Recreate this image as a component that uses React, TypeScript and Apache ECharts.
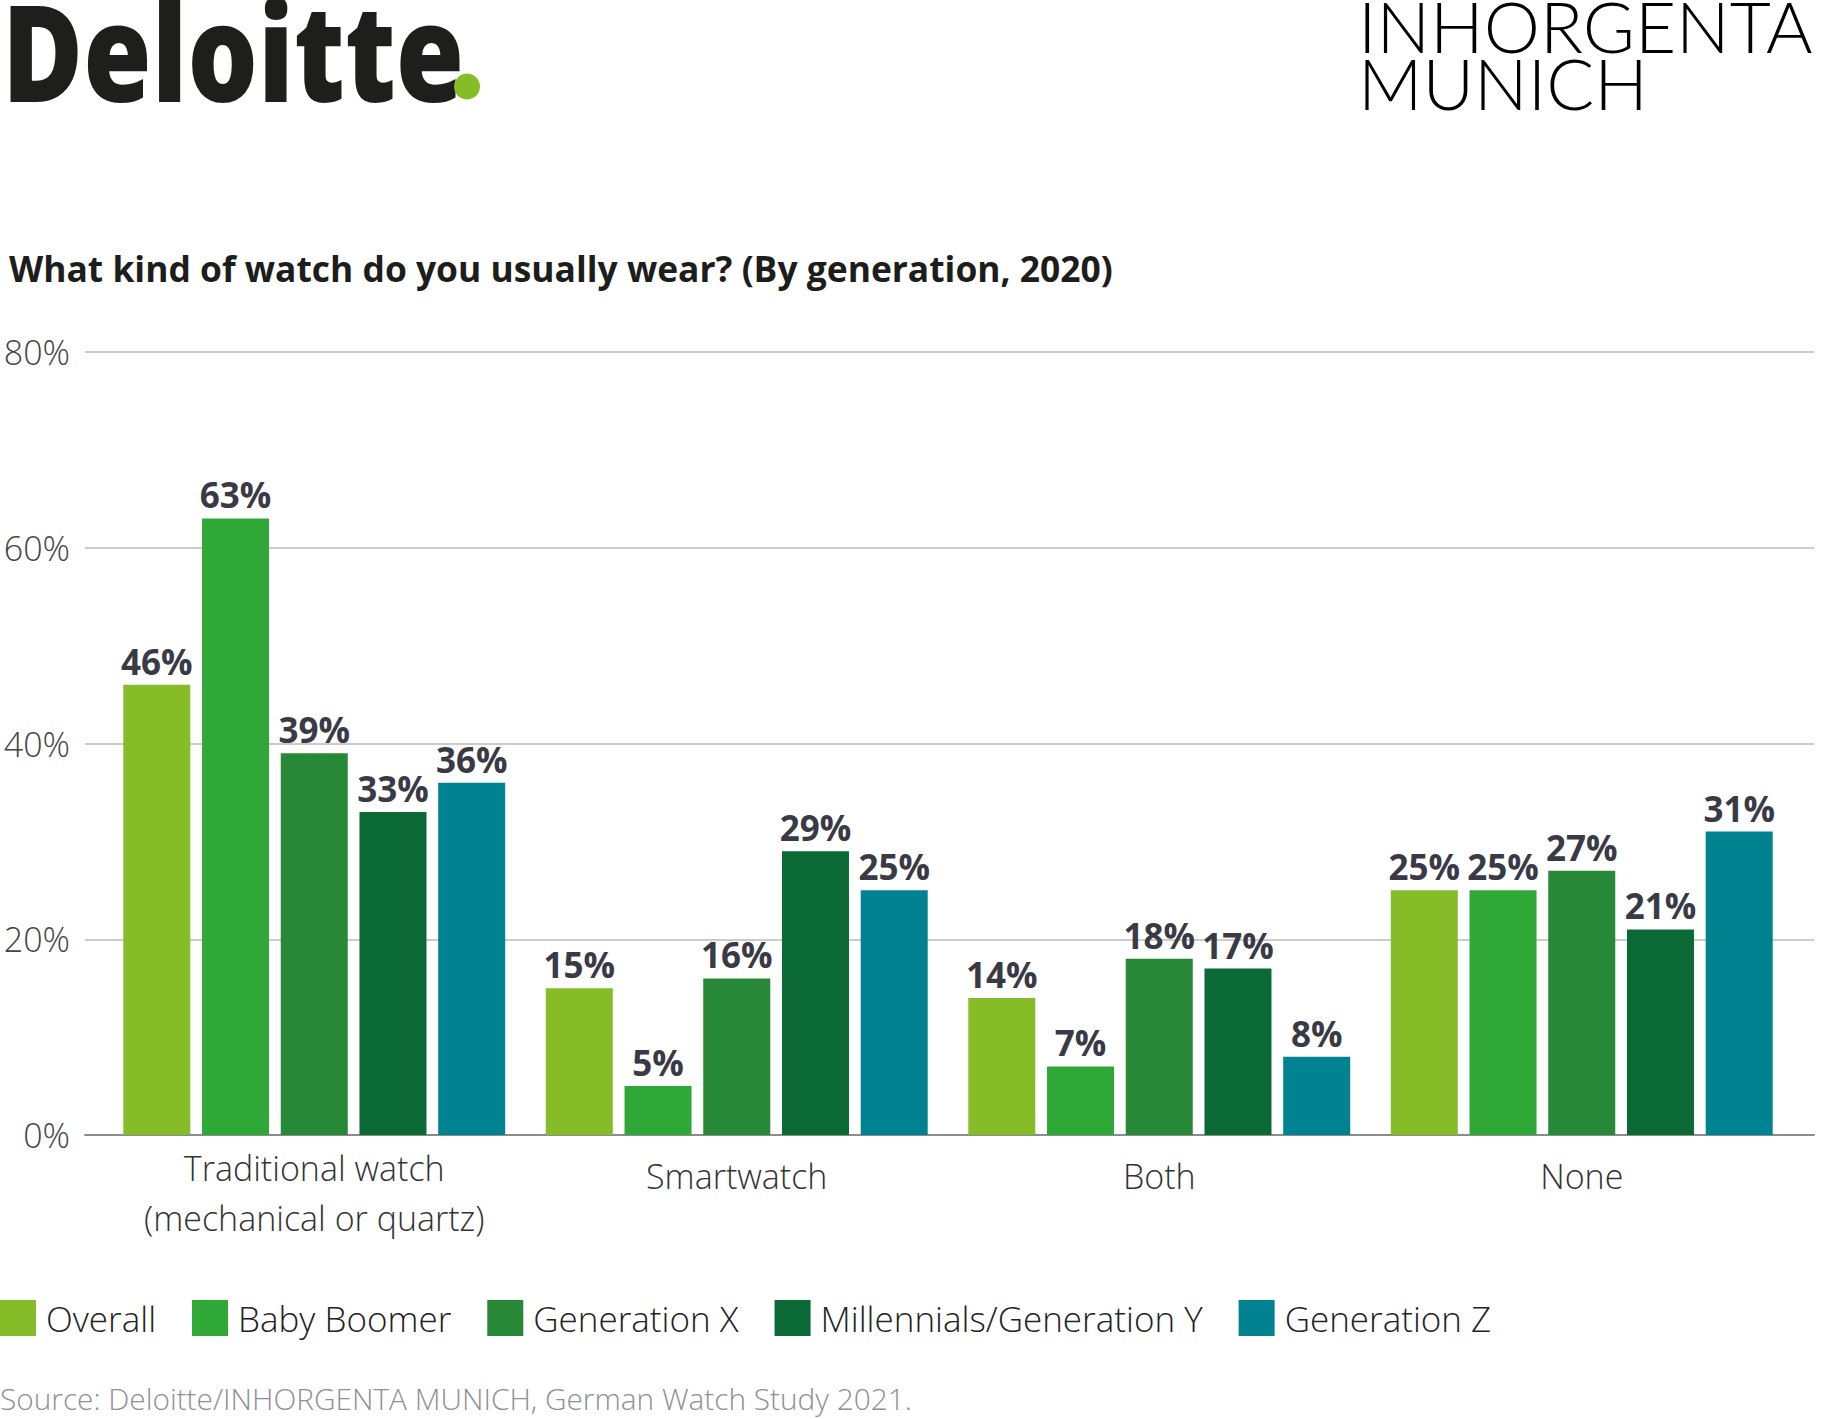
import React, { useEffect, useRef } from "react";
import * as echarts from "echarts";

const categories = ["Traditional watch\n(mechanical or quartz)", "Smartwatch", "Both", "None"];
const generations = ["Overall", "Baby Boomer", "Generation X", "Millennials/Generation Y", "Generation Z"];
const overall = [46, 15, 14, 25];
const babyBoomer = [63, 5, 7, 25];
const generationX = [39, 16, 18, 27];
const millennials = [33, 29, 17, 21];
const generationZ = [36, 25, 8, 31];
const colors = ["#86BC28", "#2FA838", "#278837", "#0A6934", "#008290"];
const yTicks = [0, 20, 40, 60, 80];

const seriesValues = [overall, babyBoomer, generationX, millennials, generationZ];
const FONT = "'Open Sans', sans-serif";

// one-line category labels sit a little lower than the first line of two-line ones
const categoryLabel = (value: string) =>
  value.includes("\n")
    ? value
        .split("\n")
        .map((line) => `{m|${line}}`)
        .join("\n")
    : `{s|${value}}`;

const App: React.FC = () => {
  const chartRef = useRef<HTMLDivElement>(null);

  useEffect(() => {
    document.body.style.margin = "0";
    const chart = echarts.init(chartRef.current as HTMLDivElement, undefined, { renderer: "svg" });

    const labelText = { fontFamily: FONT, fontSize: 34, fontWeight: 300, color: "#333333", lineHeight: 50 };

    const option: echarts.EChartsOption = {
      animation: false,
      backgroundColor: "#ffffff",
      textStyle: { fontFamily: FONT },
      title: [
        {
          text: "What kind of watch do you usually wear? (By generation, 2020)",
          left: 9,
          top: 250,
          padding: 0,
          textStyle: { fontFamily: FONT, fontSize: 35.4, fontWeight: "bold", color: "#1d1d1b" },
        },
        {
          text: "Source: Deloitte/INHORGENTA MUNICH, German Watch Study 2021.",
          left: 0,
          top: 1383,
          padding: 0,
          textStyle: { fontFamily: FONT, fontSize: 29.8, fontWeight: 300, color: "#8e9096" },
        },
      ],
      graphic: [
        {
          type: "text",
          x: 2,
          y: 50,
          scaleX: 0.82,
          style: {
            text: "Deloitte",
            font: "800 135px 'Open Sans', sans-serif",
            lineHeight: 100,
            fill: "#1e1e1c",
            verticalAlign: "middle",
          },
        },
        {
          type: "circle",
          shape: { cx: 467, cy: 86.5, r: 13 },
          style: { fill: "#86BC25" },
        },
        {
          type: "text",
          x: 1358,
          y: 53.5,
          style: {
            text: "INHORGENTA\nMUNICH",
            font: "300 71px Lato, sans-serif",
            lineHeight: 57,
            fill: "#000000",
            verticalAlign: "middle",
          },
        },
      ],
      legend: {
        data: generations,
        left: 0,
        top: 1300,
        padding: 0,
        itemWidth: 36,
        itemHeight: 36,
        itemGap: 36,
        icon: "rect",
        textStyle: { fontFamily: FONT, fontSize: 35, fontWeight: 300, color: "#222222", padding: [0, 0, 0, 5] },
      },
      grid: [
        { left: 85, right: 8, top: 352, bottom: 284 },
        { left: 103, right: 29, top: 352, bottom: 284 },
      ],
      xAxis: [
        {
          gridIndex: 0,
          type: "category",
          data: [""],
          axisLine: { show: true, lineStyle: { color: "#8c8c8c", width: 2 } },
          axisTick: { show: false },
          axisLabel: { show: false },
        },
        {
          gridIndex: 1,
          type: "category",
          data: categories,
          axisLine: { show: false },
          axisTick: { show: false },
          axisLabel: {
            interval: 0,
            margin: 8,
            formatter: categoryLabel,
            rich: {
              m: { ...labelText },
              s: { ...labelText, padding: [16, 0, 0, 0] },
            },
          },
        },
      ],
      yAxis: [
        {
          gridIndex: 0,
          type: "value",
          min: yTicks[0],
          max: yTicks[yTicks.length - 1],
          interval: 20,
          axisLine: { show: false },
          axisTick: { show: false },
          axisLabel: {
            formatter: "{value}%",
            margin: 15,
            fontFamily: FONT,
            fontSize: 34,
            fontWeight: 300,
            color: "#444444",
          },
          splitLine: { lineStyle: { color: "#cccccc", width: 2 } },
        },
        {
          gridIndex: 1,
          type: "value",
          min: yTicks[0],
          max: yTicks[yTicks.length - 1],
          interval: 20,
          show: false,
        },
      ],
      series: generations.map((name, i) => ({
        name,
        type: "bar" as const,
        xAxisIndex: 1,
        yAxisIndex: 1,
        data: seriesValues[i],
        barWidth: 67,
        barGap: "17.5%",
        itemStyle: { color: colors[i] },
        label: {
          show: true,
          position: "top" as const,
          distance: 6,
          formatter: "{c}%",
          fontFamily: FONT,
          fontSize: 35,
          fontWeight: "bold" as const,
          color: "#393a45",
        },
      })),
    };

    chart.setOption(option);
    return () => {
      chart.dispose();
    };
  }, []);

  return <div ref={chartRef} style={{ width: "1822px", height: "1419px" }} />;
};

export default App;
